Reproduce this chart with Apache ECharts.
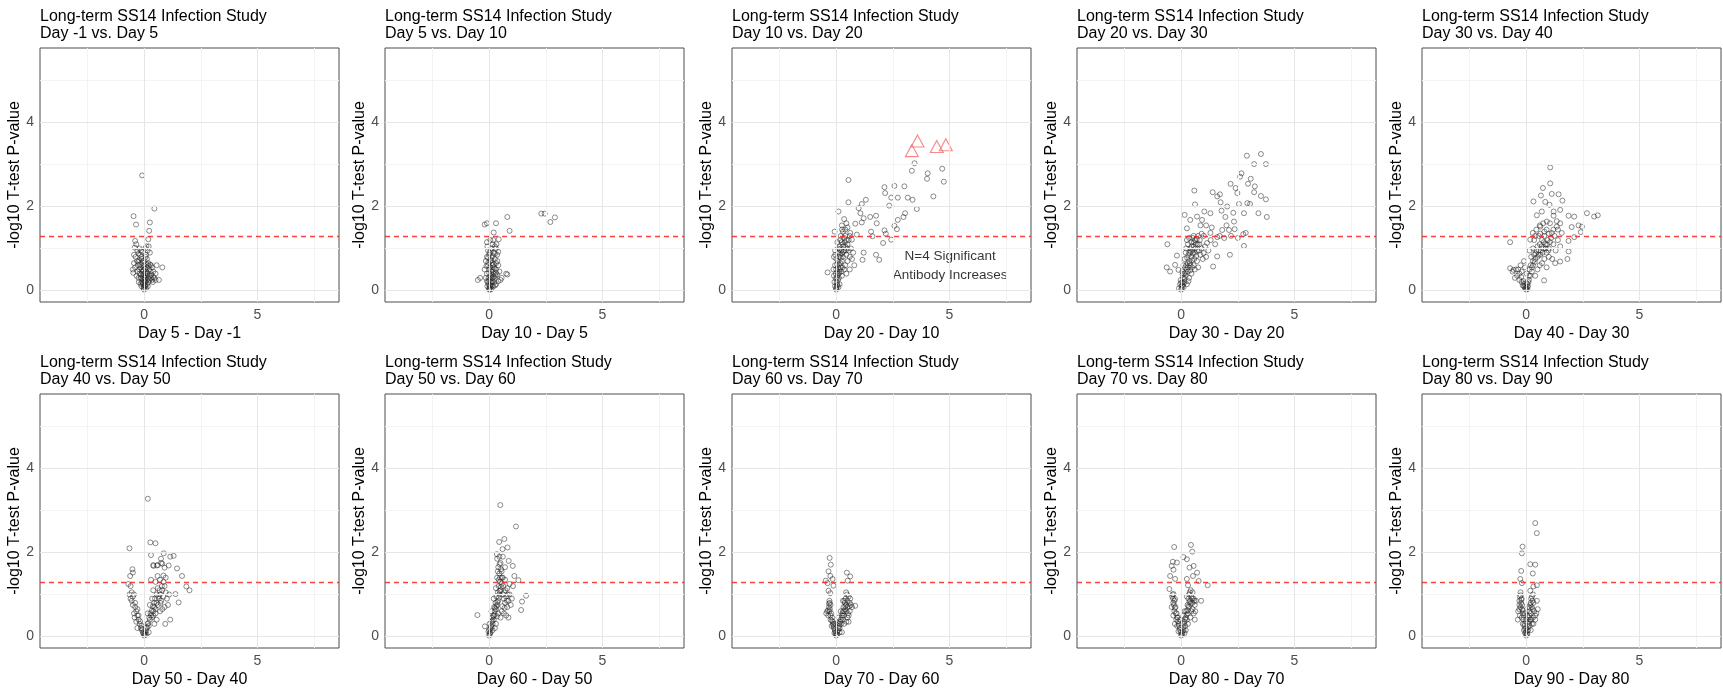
<!DOCTYPE html>
<html>
<head>
<meta charset="utf-8">
<script src="https://cdn.jsdelivr.net/npm/echarts@6/dist/echarts.min.js"></script>
<style>
html, body { margin: 0; padding: 0; background: #fff; }
#chart { width: 1723px; height: 691px; }
</style>
</head>
<body>
<div id="chart"></div>
<script>
// panel labels
var compareLabels = ['Day -1 vs. Day 5', 'Day 5 vs. Day 10', 'Day 10 vs. Day 20', 'Day 20 vs. Day 30', 'Day 30 vs. Day 40',
    'Day 40 vs. Day 50', 'Day 50 vs. Day 60', 'Day 60 vs. Day 70', 'Day 70 vs. Day 80', 'Day 80 vs. Day 90'];
var diffLabels = ['Day 5 - Day -1', 'Day 10 - Day 5', 'Day 20 - Day 10', 'Day 30 - Day 20', 'Day 40 - Day 30',
    'Day 50 - Day 40', 'Day 60 - Day 50', 'Day 70 - Day 60', 'Day 80 - Day 70', 'Day 90 - Day 80'];
var studyTitle = 'Long-term SS14 Infection Study';
var yName = '-log10 T-test P-value';

// ticks / grid
var xTicks = [0, 5];
var yTicks = [0, 2, 4];
var xMajor = [0, 5], xMinor = [-2.5, 2.5, 7.5];
var yMajor = [0, 2, 4], yMinor = [1, 3, 5];
var pCut = 1.301;

// [difference, -log10 p]
var diff5m1 = [[-0.09,2.74],[0.45,1.95],[-0.47,1.77],[-0.36,1.57],[0.25,1.62],[0.22,1.42],[0.18,1.22],[0.8,0.55],[0.65,0.25],[0.5,0.25],
    [-0.4,1.18],[-0.35,1.1],[-0.42,1.02],[-0.3,0.95],[-0.45,0.85],[-0.38,0.8],[-0.25,0.88],[-0.2,1.0],[-0.15,0.95],[-0.32,0.7],
    [-0.5,0.5],[-0.4,0.55],[-0.28,0.6],[-0.22,0.72],[-0.18,0.62],[-0.12,0.8],[-0.1,0.5],[-0.3,0.45],[-0.2,0.4],[-0.15,0.3],
    [-0.08,0.35],[-0.25,0.3],[-0.1,0.2],[-0.05,0.15],[-0.12,0.1],[-0.03,0.05],[0,0.02],[-0.05,0.25],[-0.08,0.45],[-0.02,0.6],
    [-0.06,0.7],[-0.03,0.4],[0.1,1.05],[0.05,1.0],[0.15,0.95],[0.2,1.05],[0.08,0.85],[0.12,0.75],[0.25,0.9],[0.18,0.65],
    [0.3,0.6],[0.22,0.5],[0.35,0.55],[0.4,0.45],[0.1,0.55],[0.05,0.4],[0.15,0.4],[0.25,0.35],[0.3,0.3],[0.2,0.2],
    [0.1,0.25],[0.05,0.1],[0.02,0.2],[0.12,0.15],[0.08,0.05],[0.03,0.3],[0.18,0.28],[0.28,0.45],[0.45,0.3],[0.38,0.2],[0.55,0.6],
    [-0.02,0.08],[0.04,0.12],[-0.06,0.18],[0.06,0.22],[-0.1,0.28],[0.0,0.32],[0.08,0.36],[-0.14,0.38],[0.14,0.42],[-0.04,0.48],
    [0.04,0.52],[-0.16,0.55],[0.1,0.62],[-0.08,0.66],[0.2,0.58],[-0.22,0.5],[0.02,0.7],[-0.12,0.75],[0.06,0.8],[-0.18,0.85],
    [0.16,0.1],[-0.16,0.16],[0.24,0.25],[-0.24,0.2],[0.32,0.38],[-0.34,0.35],[0.0,0.12],[0.02,0.26],[-0.03,0.55],[0.09,0.45],
    [-0.26,0.68],[0.26,0.62],[-0.1,0.92],[0.35,0.25],[0.4,0.32],[0.5,0.4],[-0.45,0.65],[-0.48,0.42]];
var diff10m5 = [[-0.2,1.57],[-0.1,1.6],[0.3,1.6],[0.8,1.75],[0.9,1.42],[0.2,1.38],[2.3,1.83],[2.45,1.83],[2.7,1.63],[2.9,1.74],
    [-0.5,0.25],[-0.4,0.3],[0.75,0.4],[0.8,0.38],[0.5,0.25],
    [-0.1,1.15],[0.05,1.2],[0.15,1.1],[0.25,1.05],[0.1,1.0],[-0.05,0.95],[0.3,1.0],[0.2,0.9],[0.35,0.85],[0.0,0.85],
    [-0.1,0.8],[0.1,0.78],[0.25,0.75],[-0.15,0.7],[0.05,0.7],[0.3,0.65],[0.15,0.6],[-0.05,0.6],[0.4,0.6],[0.2,0.55],
    [-0.2,0.5],[0.0,0.5],[0.3,0.5],[0.1,0.45],[0.45,0.45],[-0.1,0.4],[0.2,0.4],[0.35,0.38],[0.05,0.35],[-0.15,0.3],
    [0.15,0.3],[0.25,0.28],[0.0,0.25],[0.4,0.22],[-0.05,0.2],[0.1,0.18],[0.3,0.15],[0.05,0.12],[-0.08,0.1],[0.18,0.1],
    [0.02,0.06],[0.1,0.04],[0,0.02],[-0.03,0.15],[0.08,0.3],[0.12,0.65],[0.02,0.9],[0.22,0.2],[0.28,0.35],[0.55,0.3],
    [0.02,0.1],[0.06,0.2],[-0.02,0.3],[0.1,0.38],[0.0,0.42],[0.14,0.48],[0.04,0.55],[0.2,0.62],[-0.04,0.66],[0.08,0.72],
    [0.16,0.82],[0.26,0.88],[0.06,0.95],[-0.08,1.05],[0.18,1.2],[0.12,0.12],[-0.1,0.22],[0.2,0.33],[0.3,0.42],[0.24,0.52],
    [0.36,0.7],[0.4,0.92],[0.32,1.1],[0.42,1.22],[0.0,0.05],[0.05,0.02],[-0.12,0.58],[-0.05,0.78],[0.14,0.22],[0.26,0.12]];
var diff20m10 = [[0.54,2.63],[0.54,2.1],[0.1,1.88],[1.13,2.06],[1.31,2.16],[0.99,1.96],[1.07,1.84],[1.21,1.72],[0.84,1.59],[1.13,1.62],
    [1.5,1.75],[1.76,1.78],[1.79,1.6],[2.13,2.46],[2.16,2.32],[2.57,2.49],[2.43,2.21],[2.72,2.21],[2.34,2.02],[3.01,2.48],
    [3.16,2.21],[3.37,2.16],[3.34,2.85],[3.46,3.03],[4.04,2.79],[4.01,2.66],[4.68,2.9],[4.75,2.59],[4.29,2.24],[3.56,1.94],
    [3.04,1.84],[2.97,1.75],[2.72,1.68],[2.68,1.46],[2.57,1.54],[2.43,1.21],[2.13,1.43],[2.19,1.35],[2.07,1.13],[1.54,1.4],
    [1.6,1.29],[1.76,0.85],[1.9,0.73],[1.21,0.9],[1.16,0.73],[0.69,1.21],[0.62,1.37],[0.91,1.33],[-0.07,1.4],[-0.38,0.43],
    [0,0.02],[0.02,0.08],[0.05,0.15],[-0.05,0.1],[0.08,0.25],[0.03,0.3],[-0.08,0.2],[0.1,0.4],[0.05,0.45],[-0.1,0.35],
    [0.15,0.5],[0.2,0.55],[0.12,0.62],[0.08,0.7],[-0.05,0.6],[-0.12,0.5],[0.25,0.7],[0.3,0.8],[0.18,0.85],[0.22,0.95],
    [0.1,0.9],[0.35,0.95],[0.4,1.05],[0.28,1.1],[0.15,1.05],[0.45,1.2],[0.35,1.25],[0.5,1.1],[0.55,0.95],[0.45,0.85],
    [0.6,0.8],[0.65,1.0],[0.7,0.75],[0.5,0.7],[0.4,0.6],[0.3,1.4],[0.4,1.45],[0.25,1.55],[0.35,1.7],[0.2,1.3],
    [0.5,1.5],[0.6,1.3],[-0.1,0.8],[-0.05,0.95],[0.05,1.15],[0.75,0.9],[0.8,0.6],[0.0,0.5],[0.15,0.15],[0.1,0.08],
    [-0.02,0.4],[0.25,0.35],[0.35,0.5],[0.6,0.5],[0.45,0.4],
    [0.0,0.05],[0.04,0.12],[0.02,0.2],[-0.02,0.28],[0.06,0.36],[0.12,0.3],[0.14,0.42],[0.08,0.55],[0.18,0.65],[0.2,0.78],
    [0.12,0.8],[0.26,0.88],[0.3,0.92],[0.16,0.98],[0.24,1.15],[0.32,1.05],[0.38,1.15],[0.42,0.95],[0.28,0.55],[0.22,0.45],
    [0.04,0.62],[0.0,0.75],[-0.04,0.85],[0.08,1.0],[0.18,1.2],[0.4,1.3],[0.48,1.0],[0.55,1.2],[0.26,1.45],[0.45,1.6]];
var diff30m20 = [[-0.61,1.1],[-0.19,0.83],[-0.64,0.55],[-0.49,0.45],[-0.27,0.61],[-0.12,0.49],[0.15,1.8],[0.58,2.38],[0.61,2.05],[0.25,1.48],
    [0.4,1.68],[0.7,1.76],[0.92,1.68],[1.02,1.88],[1.29,1.84],[1.39,2.34],[1.59,2.24],[1.71,2.29],[1.74,2.1],[1.78,1.9],
    [2.03,2.0],[2.18,2.54],[2.4,2.44],[2.48,2.32],[2.6,2.71],[2.66,2.79],[2.9,3.21],[2.95,2.54],[3.07,2.66],[3.22,3.01],
    [3.52,3.25],[3.74,3.01],[3.25,2.48],[3.22,2.34],[3.52,2.25],[3.74,2.17],[3.78,1.75],[3.41,1.84],[3.04,2.06],[2.92,2.08],
    [2.77,1.84],[2.55,2.06],[2.33,1.64],[2.36,1.46],[2.74,1.34],[2.77,1.06],[2.85,1.37],[2.15,0.85],[2.11,1.44],[1.81,1.44],
    [1.59,1.27],[1.41,0.57],[1.59,0.81],[1.29,1.37],[1.14,1.13],[0.99,0.89],
    [0,0.02],[0.02,0.1],[-0.05,0.15],[0.05,0.2],[-0.02,0.25],[0.1,0.08],[0.08,0.3],[0.15,0.2],[0.12,0.4],[0.2,0.35],
    [0.25,0.5],[0.18,0.55],[0.3,0.45],[0.28,0.65],[0.35,0.7],[0.4,0.6],[0.32,0.85],[0.45,0.8],[0.5,0.95],[0.4,1.0],
    [0.55,1.05],[0.6,0.9],[0.45,1.15],[0.65,1.1],[0.7,0.95],[0.5,1.25],[0.6,1.2],[0.75,1.3],[0.8,1.1],[0.85,0.85],
    [0.9,1.0],[0.7,0.7],[0.55,0.6],[0.45,0.4],[0.35,0.3],[0.25,0.15],[0.6,0.5],[0.75,0.55],[0.95,0.75],[1.05,1.05],
    [1.1,0.8],[1.2,0.95],[1.0,1.3],[0.9,1.35],[0.3,1.1],[0.2,0.9],[0.1,0.6],[0.05,0.45],[-0.1,0.05],[0.15,0.75],
    [0.22,1.0],[1.3,1.2],[1.5,1.1],[1.7,1.3],[1.9,1.25],[2.2,1.3],[2.5,1.25],[1.35,1.5],[1.1,1.55],[0.85,1.55],
    [2.0,1.55],[2.3,1.85],[1.95,1.75],
    [0.02,0.05],[0.06,0.12],[0.0,0.18],[0.1,0.16],[0.14,0.28],[0.06,0.38],[0.18,0.42],[0.22,0.6],[0.3,0.55],[0.26,0.78],
    [0.38,0.65],[0.36,0.9],[0.42,0.92],[0.48,0.72],[0.52,0.88],[0.46,1.05],[0.56,1.15],[0.62,1.0],[0.68,1.22],[0.58,0.75],
    [0.66,0.82],[0.4,0.48],[0.32,0.22],[0.48,0.55],[0.72,1.1],[0.82,1.2],[0.78,0.95],[0.55,1.3],[0.35,1.25],[0.25,1.2]];
var diff40m30 = [[-0.71,1.15],[-0.71,0.53],[-0.56,0.49],[1.06,2.93],[1.06,2.55],[0.74,2.44],[0.65,2.26],[1.13,2.3],[1.43,2.29],[1.6,2.14],
    [0.32,2.12],[0.84,2.11],[1.03,2.04],[1.21,1.88],[1.5,1.92],[0.69,1.88],[0.47,1.79],[1.21,1.78],[1.87,1.78],[2.12,1.76],
    [2.68,1.84],[3.0,1.76],[3.16,1.79],[2.01,1.51],[2.31,1.55],[2.46,1.52],[2.41,1.39],[2.12,1.27],[1.87,1.18],[1.87,0.93],
    [1.82,0.75],[1.5,0.69],[0.79,0.24],[1.28,0.65],[0.62,1.52],[0.91,1.64],[1.13,1.37],[1.35,1.52],[1.57,1.37],[0.29,1.37],
    [0.18,1.21],
    [0,0.02],[0.03,0.08],[-0.05,0.05],[-0.1,0.1],[0.05,0.15],[-0.15,0.12],[0.1,0.2],[-0.2,0.2],[0.12,0.35],[-0.3,0.25],
    [-0.4,0.35],[-0.35,0.5],[-0.2,0.45],[-0.25,0.6],[-0.1,0.7],[-0.05,0.55],[0.02,0.4],[0.15,0.5],[0.2,0.6],[0.25,0.45],
    [0.3,0.7],[0.22,0.8],[0.35,0.85],[0.4,0.75],[0.45,0.95],[0.3,1.0],[0.5,1.05],[0.55,0.85],[0.6,1.1],[0.65,0.95],
    [0.7,1.2],[0.75,1.0],[0.8,1.3],[0.85,1.1],[0.9,0.9],[0.95,1.2],[1.0,1.0],[1.1,1.25],[1.2,1.1],[1.3,0.95],
    [1.4,1.2],[1.5,1.05],[0.6,0.6],[0.5,0.5],[0.4,0.35],[0.7,0.65],[0.8,0.75],[1.0,0.8],[1.15,0.75],[0.9,0.55],
    [0.45,1.45],[0.6,1.55],[0.75,1.6],[0.9,1.45],[1.05,1.6],[1.2,1.45],[1.35,1.65],[1.5,1.6],[0.35,1.2],[0.55,1.3],
    [-0.5,0.3],[-0.6,0.45],[0.15,0.95],
    [0.0,0.05],[0.05,0.03],[-0.04,0.1],[0.08,0.1],[-0.08,0.16],[0.02,0.18],[0.12,0.25],[-0.12,0.22],[0.18,0.35],[0.25,0.55],
    [0.3,0.6],[0.38,0.68],[0.42,0.88],[0.5,0.8],[0.55,0.95],[0.62,0.85],[0.68,1.05],[0.72,0.9],[0.78,1.15],[0.85,1.0],
    [0.92,1.1],[0.98,0.95],[1.05,1.15],[0.4,1.3],[0.62,1.35],[0.8,1.4],[1.0,1.35],[1.25,1.3],[1.4,1.45],[-0.3,0.4],
    [-0.45,0.5],[-0.22,0.32]];
var diff50m40 = [[0.16,3.28],[-0.65,2.1],[0.27,2.24],[0.5,2.22],[0.3,1.94],[0.86,1.98],[1.15,1.9],[1.3,1.92],[1.08,1.69],[0.74,1.85],
    [0.56,1.69],[0.8,1.73],[-0.52,1.6],[-0.5,1.52],[-0.62,1.44],[0.41,1.68],[0.59,1.44],[0.9,1.64],[1.45,1.62],[1.67,1.44],
    [1.86,1.19],[2.0,1.1],[1.52,0.81],[1.15,0.4],[0.93,0.3],[1.38,1.01],
    [-0.7,1.25],[-0.6,1.2],[-0.65,1.0],[-0.55,1.05],[-0.5,0.95],[-0.45,1.0],[-0.55,0.85],[-0.4,0.8],[-0.35,0.6],[-0.45,0.55],
    [-0.3,0.5],[-0.25,0.4],[-0.35,0.35],[-0.2,0.3],[-0.15,0.2],[-0.1,0.15],[-0.05,0.08],[0,0.02],[-0.3,0.2],[-0.42,0.45],
    [0.05,0.1],[0.1,0.2],[0.15,0.3],[0.2,0.25],[0.25,0.4],[0.3,0.5],[0.35,0.45],[0.4,0.6],[0.45,0.7],[0.5,0.55],
    [0.55,0.8],[0.6,0.75],[0.65,0.9],[0.7,1.0],[0.75,0.85],[0.8,1.1],[0.85,0.95],[0.9,1.2],[0.95,1.05],[1.0,0.9],
    [1.05,0.75],[1.1,1.0],[0.6,1.15],[0.5,1.3],[0.4,1.1],[0.35,0.9],[0.25,0.75],[0.45,0.3],[0.55,0.4],[0.7,0.6],
    [0.8,0.65],[0.9,0.7],[0.2,0.1],[0.1,0.05],[0.15,0.55],[0.3,1.35],[0.7,1.35],[0.85,1.45],[0.95,1.4],[0.4,1.7],
    [0.6,1.7],[0.75,1.75],
    [0.0,0.06],[0.04,0.04],[-0.04,0.1],[0.08,0.14],[-0.08,0.18],[0.12,0.22],[-0.12,0.26],[0.18,0.32],[-0.18,0.36],[0.22,0.45],
    [0.28,0.55],[0.34,0.62],[0.38,0.72],[0.44,0.8],[0.48,0.9],[0.55,1.0],[0.62,0.95],[0.68,1.1],[0.72,0.8],[0.78,1.2],
    [0.85,1.3],[-0.25,0.5],[-0.3,0.65],[-0.4,0.7],[-0.5,0.75],[-0.6,0.9],[0.5,0.65],[0.4,0.5]];
var diff60m50 = [[0.49,3.13],[1.18,2.62],[0.44,2.25],[0.67,2.32],[0.81,2.12],[0.59,2.08],[0.34,1.96],[0.86,1.8],[1.04,1.68],[1.11,1.44],
    [1.29,1.34],[1.63,0.97],[1.45,0.83],[1.41,0.63],[-0.52,0.51],[-0.19,0.24],
    [0,0.02],[0.03,0.08],[-0.03,0.12],[0.05,0.18],[0.08,0.25],[0.02,0.3],[0.1,0.35],[0.15,0.3],[0.12,0.45],[0.18,0.5],
    [0.2,0.4],[0.25,0.6],[0.22,0.7],[0.3,0.65],[0.28,0.8],[0.35,0.75],[0.32,0.95],[0.4,0.85],[0.38,1.05],[0.45,1.0],
    [0.42,1.2],[0.5,1.1],[0.48,1.3],[0.55,1.25],[0.35,1.4],[0.45,1.5],[0.55,1.55],[0.4,1.65],[0.5,1.75],[0.45,1.9],
    [0.6,1.0],[0.65,0.9],[0.7,0.8],[0.75,0.95],[0.8,0.7],[0.85,0.85],[0.9,1.0],[0.95,0.75],[1.0,0.9],[0.9,1.25],
    [0.8,1.15],[0.7,1.35],[0.6,1.4],[0.65,0.55],[0.55,0.6],[0.5,0.45],[0.75,0.5],[0.85,0.45],[0.3,0.3],[0.25,0.2],
    [0.15,0.15],[0.1,0.6],[0.2,0.9],[0.3,1.15],[1.05,1.2],[0.35,1.85],[0.6,1.9],[0.7,1.65],
    [0.02,0.05],[0.06,0.1],[0.0,0.16],[0.1,0.22],[0.14,0.38],[0.2,0.48],[0.24,0.52],[0.26,0.68],[0.32,0.72],[0.36,0.82],
    [0.42,0.92],[0.46,1.08],[0.52,1.18],[0.48,1.4],[0.56,1.4],[0.62,1.2],[0.66,1.05],[0.72,1.1],[0.78,0.85],[0.82,1.0],
    [0.4,0.55],[0.35,0.48],[0.58,0.72],[0.68,0.68],[0.42,1.35],[0.52,1.6],[0.38,1.55],[0.46,1.72]];
var diff70m60 = [[-0.29,1.87],[-0.24,1.71],[-0.34,1.55],[-0.26,1.44],[-0.16,1.37],[-0.46,1.33],[-0.38,1.27],[-0.12,1.21],[-0.34,1.09],[-0.26,1.03],
    [0.47,1.52],[0.62,1.43],[0.51,1.33],[-0.44,0.55],[0.84,0.73],
    [-0.3,0.85],[-0.28,0.8],[-0.32,0.7],[-0.25,0.75],[-0.3,0.6],[-0.22,0.55],[-0.35,0.5],[-0.18,0.45],[-0.25,0.4],[-0.15,0.35],
    [-0.2,0.25],[-0.1,0.2],[-0.12,0.3],[-0.05,0.12],[-0.08,0.08],[0,0.02],[-0.4,0.6],
    [0.05,0.05],[0.08,0.15],[0.12,0.25],[0.15,0.2],[0.18,0.35],[0.22,0.3],[0.25,0.45],[0.28,0.55],[0.3,0.4],[0.35,0.6],
    [0.32,0.7],[0.4,0.65],[0.38,0.8],[0.45,0.75],[0.42,0.9],[0.5,0.85],[0.48,1.0],[0.55,0.95],[0.6,0.8],[0.65,0.75],
    [0.7,0.7],[0.6,0.6],[0.55,0.5],[0.5,0.45],[0.45,0.35],[0.35,0.3],[0.25,0.1],[0.3,0.85],[0.2,0.6],[0.1,0.45],[0.55,0.35],
    [0.02,0.05],[-0.02,0.08],[0.05,0.12],[-0.06,0.16],[0.1,0.2],[-0.1,0.24],[0.14,0.3],[-0.14,0.28],[0.2,0.4],[-0.2,0.38],
    [0.26,0.5],[-0.25,0.5],[0.3,0.6],[-0.28,0.65],[0.34,0.5],[0.4,0.72],[0.45,0.6],[0.5,0.7],[0.58,0.72],[0.52,0.55],
    [0.36,0.85],[0.44,1.05],[-0.32,0.78],[-0.36,0.62],[0.62,0.9],[0.15,0.1],[0.08,0.32],[-0.04,0.3]];
var diff80m70 = [[-0.31,2.13],[0.43,2.18],[0.49,2.02],[0.1,1.89],[0.25,1.84],[-0.37,1.78],[-0.19,1.76],[-0.42,1.68],[-0.34,1.59],[-0.49,1.44],
    [-0.27,1.37],[0.55,1.68],[0.37,1.64],[0.7,1.52],[0.52,1.44],[0.77,1.32],[1.17,1.22],[0.88,0.85],[0.25,1.37],[0.3,1.22],
    [-0.52,1.13],[-0.34,1.01],[-0.27,0.89],
    [-0.4,0.95],[-0.35,0.8],[-0.3,0.85],[-0.42,0.7],[-0.25,0.7],[-0.3,0.6],[-0.2,0.55],[-0.35,0.5],[-0.15,0.45],[-0.22,0.4],
    [-0.1,0.3],[-0.18,0.25],[-0.05,0.15],[-0.12,0.12],[0,0.02],[-0.05,0.4],[-0.28,0.3],
    [0.05,0.08],[0.1,0.15],[0.12,0.3],[0.18,0.25],[0.2,0.45],[0.25,0.4],[0.22,0.6],[0.3,0.55],[0.28,0.75],[0.35,0.7],
    [0.32,0.9],[0.4,0.85],[0.38,1.05],[0.45,0.95],[0.5,0.8],[0.55,0.9],[0.6,0.75],[0.65,0.85],[0.5,1.05],[0.45,0.6],
    [0.4,0.45],[0.3,0.3],[0.2,0.15],[0.15,0.6],[0.1,0.5],[0.55,0.55],[0.6,0.4],[0.25,0.95],
    [0.02,0.05],[-0.02,0.1],[0.06,0.12],[-0.06,0.2],[0.1,0.22],[-0.1,0.26],[0.14,0.35],[-0.14,0.36],[0.18,0.42],[-0.18,0.45],
    [0.24,0.52],[-0.24,0.55],[0.28,0.62],[-0.28,0.68],[0.32,0.72],[-0.32,0.75],[0.36,0.82],[-0.36,0.9],[0.42,0.78],[0.48,0.9],
    [0.5,0.65],[0.58,0.85],[0.62,0.6],[0.35,1.0],[0.42,1.1],[-0.38,1.0],[0.15,0.08],[0.05,0.3]];
var diff90m80 = [[0.4,2.7],[0.47,2.46],[-0.16,2.14],[-0.19,1.98],[0.18,1.72],[0.4,1.71],[0.29,1.5],[-0.22,1.56],[-0.26,1.37],[-0.19,1.27],
    [0.47,1.22],[0.32,1.19],[0.18,1.09],[0.47,0.85],[0.51,0.65],[-0.37,0.4],
    [-0.25,1.05],[-0.28,0.95],[-0.2,0.9],[-0.3,0.85],[-0.22,0.8],[-0.25,0.7],[-0.18,0.65],[-0.3,0.65],[-0.15,0.55],[-0.2,0.45],
    [-0.12,0.4],[-0.15,0.3],[-0.08,0.25],[-0.1,0.15],[-0.05,0.08],[0,0.02],[-0.02,0.35],[-0.05,0.55],[-0.35,0.6],
    [0.05,0.05],[0.08,0.15],[0.1,0.3],[0.15,0.25],[0.12,0.45],[0.18,0.4],[0.15,0.6],[0.2,0.55],[0.18,0.75],[0.25,0.7],
    [0.22,0.9],[0.28,0.85],[0.3,1.0],[0.35,0.6],[0.3,0.45],[0.25,0.3],[0.2,0.15],[0.4,0.5],[0.1,0.7],[0.05,0.5],
    [0.02,0.06],[-0.02,0.1],[0.05,0.14],[-0.05,0.18],[0.08,0.22],[-0.08,0.3],[0.12,0.35],[-0.12,0.5],[0.14,0.5],[-0.15,0.62],
    [0.16,0.68],[-0.18,0.75],[0.2,0.8],[-0.22,0.88],[0.25,0.95],[-0.24,0.98],[0.28,0.65],[0.32,0.8],[0.22,0.4],[0.0,0.2],
    [0.02,0.4],[0.45,0.55],[0.4,0.4],[0.32,0.3],[-0.28,0.5],[-0.3,0.75]];

// significant antibodies in Day 10 vs Day 20 panel
var sigPoints = [[3.34,3.33],[3.59,3.56],[4.44,3.43],[4.84,3.47]];
var annoText = ['N=4 Significant', 'Antibody Increases'];
var annoPos = [[5.03,0.81],[5.03,0.35]];

var panelData = [diff5m1, diff10m5, diff20m10, diff30m20, diff40m30, diff50m40, diff60m50, diff70m60, diff80m70, diff90m80];

var colLeft = [40, 385, 732, 1077, 1422];
var rowTop = [48, 394];
var plotW = 299, plotH = 254;
var font = "'Liberation Sans', Arial, sans-serif";

var chart = echarts.init(document.getElementById('chart'));

var grids = [], xAxes = [], yAxes = [], titles = [], series = [];

function gridLines(vals, key, color) {
    return vals.map(function (v) {
        var o = { lineStyle: { color: color, width: 1, type: 'solid' } };
        o[key] = v;
        return o;
    });
}

panelData.forEach(function (pts, i) {
    var col = i % 5, row = Math.floor(i / 5);
    grids.push({
        left: colLeft[col], top: rowTop[row], width: plotW, height: plotH,
        show: true, borderColor: '#4d4d4d', borderWidth: 1, backgroundColor: '#fff'
    });
    xAxes.push({
        type: 'value', gridIndex: i, min: -4.6, max: 8.6,
        name: diffLabels[i], nameLocation: 'middle', nameGap: 24,
        nameTextStyle: { fontFamily: font, fontSize: 16, color: '#000' },
        axisLine: { show: false },
        axisTick: { show: true, length: 4, customValues: xTicks, lineStyle: { color: '#333' } },
        axisLabel: { customValues: xTicks, margin: 6, fontFamily: font, fontSize: 14, color: '#4d4d4d' },
        splitLine: { show: false }
    });
    yAxes.push({
        type: 'value', gridIndex: i, min: -0.275, max: 5.775,
        name: yName, nameLocation: 'middle', nameGap: 12, nameRotate: 90,
        nameTextStyle: { fontFamily: font, fontSize: 16, color: '#000' },
        axisLine: { show: false },
        axisTick: { show: true, length: 4, customValues: yTicks, lineStyle: { color: '#333' } },
        axisLabel: { customValues: yTicks, margin: 6, fontFamily: font, fontSize: 14, color: '#4d4d4d' },
        splitLine: { show: false }
    });
    titles.push({
        text: studyTitle + '\n' + compareLabels[i],
        left: colLeft[col], top: rowTop[row] - 40, padding: 0,
        textStyle: { fontFamily: font, fontSize: 16, fontWeight: 'normal', color: '#000', lineHeight: 17 }
    });

    // background grid
    series.push({
        type: 'line', xAxisIndex: i, yAxisIndex: i, data: [], silent: true, z: 1,
        markLine: {
            silent: true, symbol: 'none', animation: false, label: { show: false },
            data: [].concat(
                gridLines(xMinor, 'xAxis', '#f3f3f3'),
                gridLines(yMinor, 'yAxis', '#f3f3f3'),
                gridLines(xMajor, 'xAxis', '#e6e6e6'),
                gridLines(yMajor, 'yAxis', '#e6e6e6')
            )
        }
    });

    series.push({
        type: 'scatter', xAxisIndex: i, yAxisIndex: i, data: pts, z: 3,
        symbol: 'circle', symbolSize: 5,
        itemStyle: { color: 'rgba(0,0,0,0)', borderColor: 'rgba(35,35,35,0.72)', borderWidth: 0.9 },
        markLine: {
            silent: true, symbol: 'none', animation: false, label: { show: false },
            lineStyle: { color: 'rgba(255,30,30,0.85)', width: 1.3, type: [5, 4] },
            data: [{ yAxis: pCut }]
        }
    });

    if (i === 2) {
        series.push({
            type: 'scatter', xAxisIndex: i, yAxisIndex: i, data: sigPoints, z: 4,
            symbol: 'triangle', symbolSize: [13, 12],
            itemStyle: { color: 'rgba(0,0,0,0)', borderColor: '#f26d6d', borderWidth: 1.1 }
        });
        series.push({
            type: 'scatter', xAxisIndex: i, yAxisIndex: i, data: annoPos, z: 4,
            symbolSize: 1, itemStyle: { color: 'rgba(0,0,0,0)' },
            label: {
                show: true, position: 'inside', fontFamily: font, fontSize: 13.5, color: '#000',
                formatter: function (p) { return annoText[p.dataIndex]; }
            }
        });
    }
});

chart.setOption({
    animation: false,
    backgroundColor: '#fff',
    title: titles,
    grid: grids,
    xAxis: xAxes,
    yAxis: yAxes,
    series: series
});
</script>
</body>
</html>
